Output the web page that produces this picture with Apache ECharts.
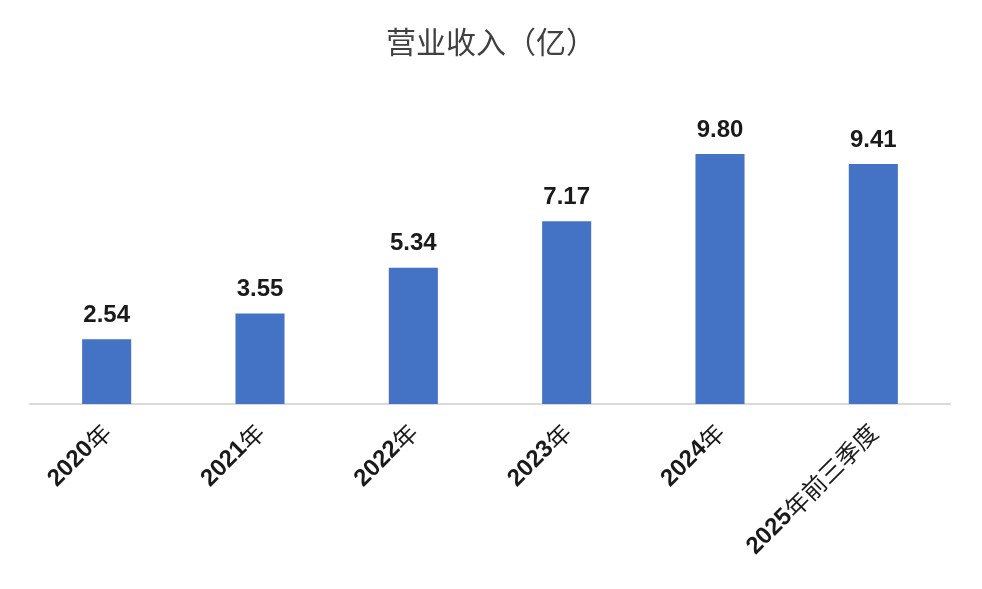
<!DOCTYPE html>
<html>
<head>
<meta charset="utf-8">
<script src="https://cdn.jsdelivr.net/npm/echarts@6/dist/echarts.min.js"></script>
<style>
  html, body { margin: 0; padding: 0; background: #fff; }
  #main { width: 982px; height: 589px; }
</style>
</head>
<body>
<div id="main"></div>
<script>
// 数据
const categories = ['2020年', '2021年', '2022年', '2023年', '2024年', '2025年前三季度']
const revenue = [2.54, 3.55, 5.34, 7.17, 9.80, 9.41]
const titleText = '营业收入（亿）'

const fontFamily = '"Liberation Sans", Arial, "Noto Sans CJK SC", sans-serif'

const chart = echarts.init(document.getElementById('main'), null, { renderer: 'canvas' })
const options = {
  backgroundColor: '#ffffff',
  animation: false,
  title: {
    text: titleText,
    left: 'center',
    top: 22,
    textStyle: {
      color: '#404040',
      fontSize: 30,
      fontWeight: 'normal',
      fontFamily: '"Noto Sans CJK SC", sans-serif'
    }
  },
  grid: {
    left: 30,
    right: 32,
    top: 98,
    bottom: 185,
    containLabel: false
  },
  xAxis: {
    type: 'category',
    data: categories,
    axisLine: {
      lineStyle: { color: '#d9d9d9', width: 2 }
    },
    axisTick: { show: false },
    axisLabel: {
      interval: 0,
      rotate: 45,
      margin: 24,
      color: '#1a1a1a',
      fontSize: 24,
      fontFamily: fontFamily,
      // 数字加粗，中文常规
      formatter: function (v) {
        const m = v.match(/^(\d+)(.*)$/)
        if (!m) return v
        return '{n|' + m[1] + '}{c|' + m[2] + '}'
      },
      rich: {
        n: { fontWeight: 'bold', fontSize: 24, fontFamily: fontFamily, color: '#1a1a1a' },
        c: { fontWeight: 'normal', fontSize: 24, fontFamily: '"Noto Sans CJK SC", sans-serif', color: '#1a1a1a' }
      }
    }
  },
  yAxis: {
    type: 'value',
    min: 0,
    max: 12,
    show: false,
    splitLine: { show: false }
  },
  series: [{
    name: titleText,
    type: 'bar',
    barWidth: '32%',
    itemStyle: {
      color: '#4472c4'
    },
    label: {
      show: true,
      position: 'top',
      distance: 12,
      color: '#1a1a1a',
      fontSize: 24,
      fontWeight: 'bold',
      fontFamily: fontFamily,
      formatter: function (p) {
        return p.value.toFixed(2)
      }
    },
    data: revenue
  }]
}
chart.setOption(options)
</script>
</body>
</html>
